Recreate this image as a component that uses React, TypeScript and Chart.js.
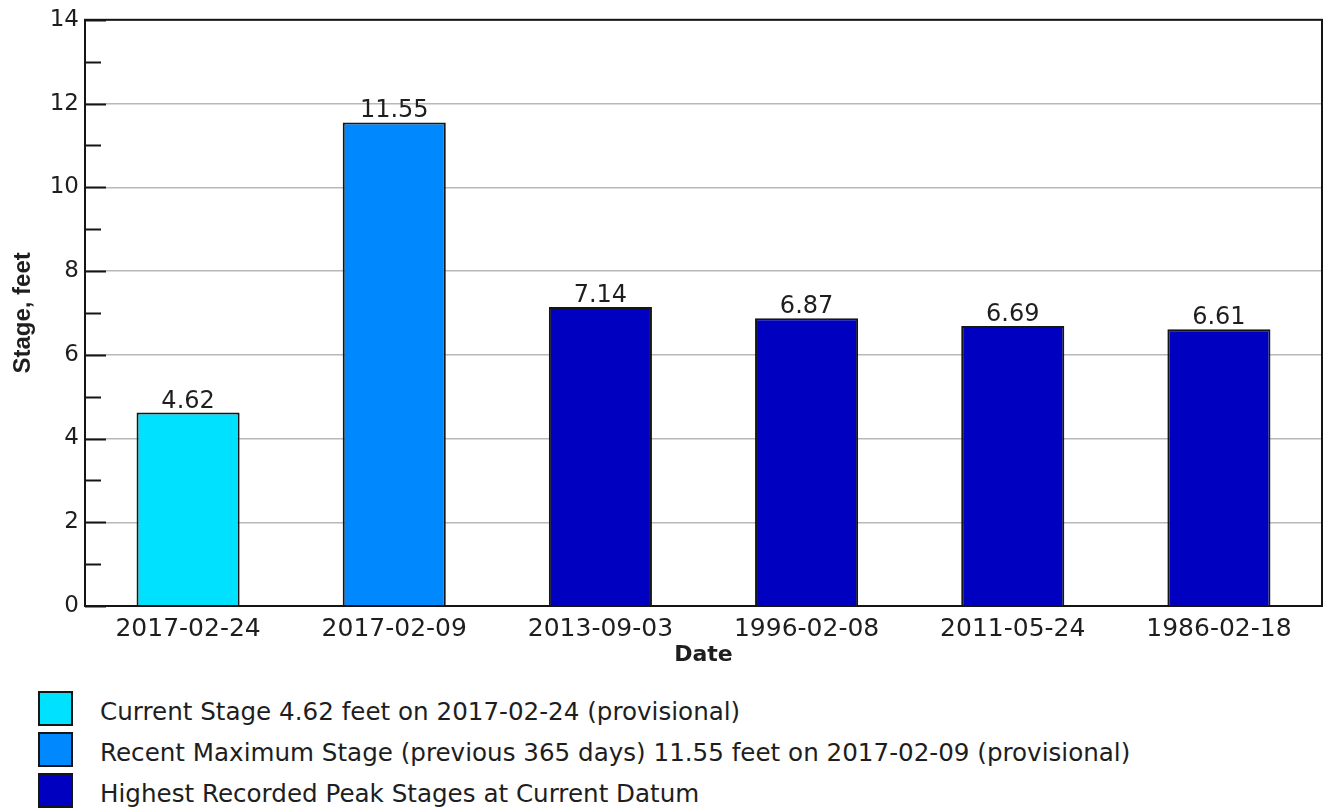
import React, { useEffect, useRef } from 'react';
import { Chart, registerables } from 'chart.js';

Chart.register(...registerables);

// ---- Data ----
const categories = ['2017-02-24', '2017-02-09', '2013-09-03', '1996-02-08', '2011-05-24', '1986-02-18'];
const stageValues = [4.62, 11.55, 7.14, 6.87, 6.69, 6.61];
const barKinds = ['current', 'recent', 'peak', 'peak', 'peak', 'peak'];
const legendKinds = ['current', 'recent', 'peak'];
const legendLabels = [
  'Current Stage 4.62 feet on 2017-02-24 (provisional)',
  'Recent Maximum Stage (previous 365 days) 11.55 feet on 2017-02-09 (provisional)',
  'Highest Recorded Peak Stages at Current Datum',
];
const yMin = 0;
const yMax = 14;
const yMajorStep = 2;
const yMinorStep = 1;
const yTitle = 'Stage, feet';
const xTitle = 'Date';

const kindColors: Record<string, string> = {
  current: '#00E0FF',
  recent: '#0088FF',
  peak: '#0000C0',
};

const TEXT = '#1e1e1e';
const FONT = "'DejaVu Sans', sans-serif";

const framePlugin = {
  id: 'frameAndTicks',
  afterDraw(chart: any) {
    const { ctx, chartArea } = chart;
    const ys = chart.scales.y;
    const { left, right, top, bottom } = chartArea;
    ctx.save();
    ctx.strokeStyle = '#151515';
    ctx.lineWidth = 2;
    for (let v = yMin; v <= yMax; v += yMinorStep) {
      const py = Math.round(ys.getPixelForValue(v)) + 0.5;
      const major = v % yMajorStep === 0;
      ctx.beginPath();
      ctx.moveTo(left, py);
      ctx.lineTo(left + (major ? 21 : 16), py);
      ctx.stroke();
    }
    ctx.strokeRect(left, top, right - left, bottom - top);
    ctx.restore();
  },
};

const valueLabelPlugin = {
  id: 'valueLabels',
  afterDatasetsDraw(chart: any) {
    const { ctx } = chart;
    const meta = chart.getDatasetMeta(0);
    const data = chart.data.datasets[0].data as number[];
    ctx.save();
    ctx.fillStyle = TEXT;
    ctx.font = `24px ${FONT}`;
    ctx.textAlign = 'center';
    ctx.textBaseline = 'alphabetic';
    meta.data.forEach((el: any, i: number) => {
      ctx.fillText(data[i].toFixed(2), el.x, el.y - 5);
    });
    ctx.restore();
  },
};

function StageChart() {
  const ref = useRef<HTMLCanvasElement | null>(null);
  useEffect(() => {
    if (!ref.current) return;
    const chart = new Chart(ref.current, {
      type: 'bar',
      data: {
        labels: categories,
        datasets: [
          {
            data: stageValues,
            backgroundColor: barKinds.map((k) => kindColors[k]),
            borderColor: '#151515',
            borderWidth: 2,
            barPercentage: 0.5,
            categoryPercentage: 1,
          },
        ],
      },
      options: {
        animation: false,
        responsive: true,
        maintainAspectRatio: false,
        layout: { padding: { top: 18, right: 3, left: 0, bottom: 0 } },
        plugins: {
          legend: { display: false },
          tooltip: { enabled: false },
        },
        scales: {
          x: {
            grid: { display: false, drawTicks: false },
            border: { display: false },
            ticks: {
              color: TEXT,
              font: { family: FONT, size: 25 },
              padding: 8,
              maxRotation: 0,
            },
            title: {
              display: true,
              text: xTitle,
              color: TEXT,
              font: { family: FONT, size: 22, weight: 'bold' },
              padding: { top: 0, bottom: 12 },
            },
            afterFit(scale: any) {
              scale.height = 74;
            },
          },
          y: {
            min: yMin,
            max: yMax,
            grid: { color: '#b8b8b8', lineWidth: 1.5, drawTicks: false },
            border: { display: false },
            ticks: {
              stepSize: yMajorStep,
              color: TEXT,
              font: { family: FONT, size: 23 },
              padding: 6,
            },
            title: {
              display: true,
              text: yTitle,
              color: TEXT,
              font: { family: "'Liberation Sans', Arial, sans-serif", size: 24, weight: 'bold' },
              padding: { top: 9, bottom: 0 },
            },
            afterFit(scale: any) {
              scale.width = 85;
            },
          },
        },
      },
      plugins: [framePlugin, valueLabelPlugin],
    } as any);
    return () => chart.destroy();
  }, []);
  return (
    <div style={{ position: 'relative', width: 1325, height: 680 }}>
      <canvas ref={ref} />
    </div>
  );
}

export default function App() {
  return (
    <div
      style={{
        position: 'absolute',
        left: 0,
        top: 0,
        width: 1325,
        height: 808,
        background: '#ffffff',
        overflow: 'hidden',
      }}
    >
      <StageChart />
      {legendKinds.map((k, i) => (
        <div
          key={k}
          style={{
            position: 'absolute',
            left: 38,
            top: 691 + i * 41,
            display: 'flex',
            alignItems: 'center',
            height: 35,
          }}
        >
          <div
            style={{
              width: 35,
              height: 35,
              boxSizing: 'border-box',
              border: '2px solid #151515',
              background: kindColors[k],
              flex: '0 0 auto',
            }}
          />
          <div
            style={{
              marginLeft: 27,
              fontFamily: FONT,
              fontSize: 24.6,
              lineHeight: '35px',
              color: TEXT,
              whiteSpace: 'nowrap',
              position: 'relative',
              top: 3,
            }}
          >
            {legendLabels[i]}
          </div>
        </div>
      ))}
    </div>
  );
}
